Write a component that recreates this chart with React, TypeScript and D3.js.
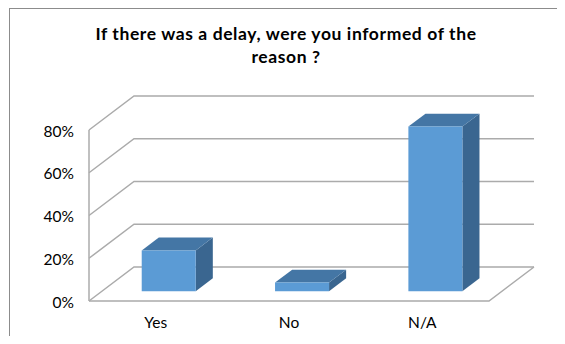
import React from "react";
import * as d3 from "d3";

const categories = ["Yes", "No", "N/A"];
const values = [0.19, 0.04, 0.77];
const yTicks = [0, 0.2, 0.4, 0.6, 0.8];
const titleLines = ["If there was a delay, were you informed of the", "reason ?"];

const W = 565;
const H = 344;
const DX = 45;
const DY = -34;
const proj = (x: number, y: number, d: number): [number, number] => [x + d * DX, y + d * DY];

export default function App() {
  const x = d3.scaleBand<string>().domain(categories).range([89, 489]).paddingInner(0).paddingOuter(0);
  const y = d3.scaleLinear().domain([0, 0.8]).range([301, 130]);
  const grid = "#ABABAB";
  const barFront = 0.29;
  const barBack = 0.67;
  const barFrac = 0.405;
  const line = d3.line();

  return (
    <div style={{ margin: -8 }}>
      <svg width={W} height={H} style={{ display: "block", fontFamily: "Lato, sans-serif" }}>
        <rect x={0} y={0} width={W} height={H} fill="#fff" />
        <rect x={9.5} y={8.5} width={W + 20} height={H + 20} fill="none" stroke="#8C8C8C" strokeWidth={1} />
        {titleLines.map((t, i) => (
          <text key={i} x={286} y={40 + i * 22.5} textAnchor="middle" fontWeight="bold" fontSize={17.5} letterSpacing={0.6} fill="#000">
            {t}
          </text>
        ))}
        {/* walls gridlines */}
        {yTicks.map((t) => {
          const f = proj(89, y(t), 0);
          const b = proj(89, y(t), 1);
          const r = proj(489, y(t), 1);
          return (
            <path key={t} d={line([f, b, r]) || ""} fill="none" stroke={grid} strokeWidth={1.5} />
          );
        })}
        {/* left axis vertical */}
        <path d={line([[89, y(0.8)], [89, y(0)]]) || ""} stroke={grid} strokeWidth={1.5} />
        {/* floor */}
        <path d={line([[89, y(0)], [489, y(0)], proj(489, y(0), 1)]) || ""} fill="none" stroke={grid} strokeWidth={1.5} />
        {/* bars */}
        {categories.map((c, i) => {
          const bw = x.bandwidth() * barFrac;
          const x0 = (x(c) as number) + (x.bandwidth() - bw) / 2;
          const x1 = x0 + bw;
          const yt = y(values[i]);
          const yb = y(0);
          const fTL = proj(x0, yt, barFront);
          const fTR = proj(x1, yt, barFront);
          const fBR = proj(x1, yb, barFront);
          const fBL = proj(x0, yb, barFront);
          const bTL = proj(x0, yt, barBack);
          const bTR = proj(x1, yt, barBack);
          const bBR = proj(x1, yb, barBack);
          return (
            <g key={c}>
              <path d={line([fTR, bTR, bBR, fBR])! + "Z"} fill="#3A6690" />
              <path d={line([fTL, bTL, bTR, fTR])! + "Z"} fill="#4476A5" />
              <path d={line([fTL, fTR, fBR, fBL])! + "Z"} fill="#5B9BD5" />
            </g>
          );
        })}
        {/* y tick labels */}
        {yTicks.map((t) => (
          <text key={t} x={74} y={y(t) + 6.5} textAnchor="end" fontSize={15.5} fill="#000">
            {d3.format(".0%")(t)}
          </text>
        ))}
        {/* category labels */}
        {categories.map((c) => (
          <text key={c} x={(x(c) as number) + x.bandwidth() / 2} y={328} textAnchor="middle" fontSize={15.5} fill="#000">
            {c}
          </text>
        ))}
      </svg>
    </div>
  );
}
